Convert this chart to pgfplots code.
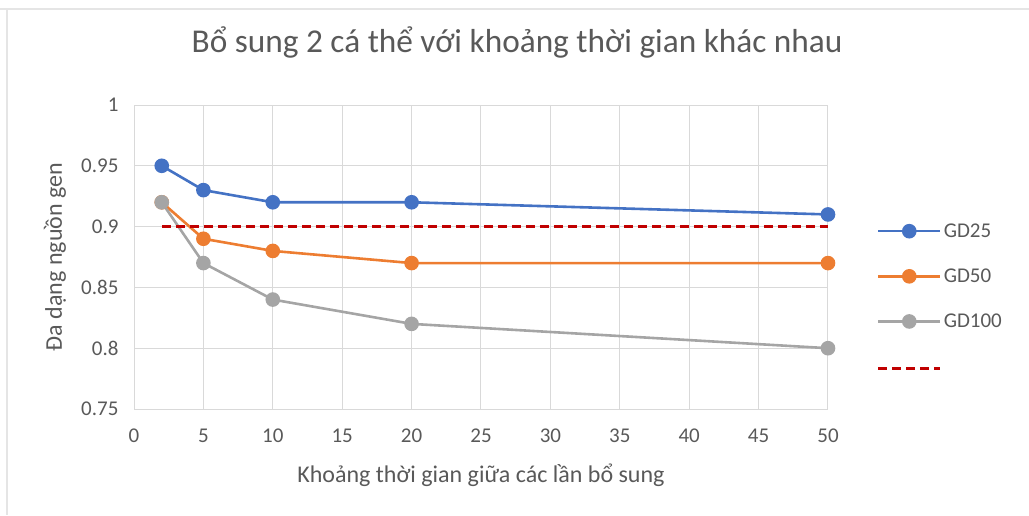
\documentclass[border=0pt]{standalone}
\usepackage{fontspec}
\setmainfont{Carlito}
\usepackage{pgfplots}
\pgfplotsset{compat=1.18}
\definecolor{cblue}{HTML}{4472C4}
\definecolor{corange}{HTML}{ED7D31}
\definecolor{cgray}{HTML}{A5A5A5}
\definecolor{cred}{HTML}{C00000}
\definecolor{textgray}{HTML}{595959}
\definecolor{gridgray}{HTML}{D9D9D9}
\begin{document}
\begin{tikzpicture}[x=1pt,y=1pt]
\path[use as bounding box] (0,0) rectangle (1029,515);
\draw[gray!20, line width=2pt] (0,506) -- (1029,506);
\draw[gray!20, line width=1.5pt] (7,0) -- (7,506);
\begin{axis}[
  at={(134pt,106pt)}, anchor=south west,
  scale only axis, width=694pt, height=304pt,
  xmin=0, xmax=50, ymin=0.75, ymax=1,
  xtick={0,5,10,15,20,25,30,35,40,45,50},
  ytick={0.75,0.8,0.85,0.9,0.95,1},
  yticklabels={0.75,0.8,0.85,0.9,0.95,1},
  grid=major,
  major grid style={draw=gridgray, line width=1pt},
  axis line style={draw=gridgray, line width=1pt},
  tick style={draw=none},
  /pgf/number format/assume math mode=true,
  ticklabel style={font=\fontsize{21}{24}\selectfont, text=textgray},
  yticklabel style={xshift=-12pt},
  xticklabel style={yshift=-16pt},
  title={Bổ sung 2 cá thể với khoảng thời gian khác nhau},
  title style={at={(axis description cs:0.552,1.1875)}, anchor=center, font=\fontsize{33.3}{40}\selectfont, text=textgray},
  xlabel={Khoảng thời gian giữa các lần bổ sung},
  xlabel style={at={(axis description cs:0.5,-0.217)}, anchor=center, font=\fontsize{24}{28}\selectfont, text=textgray},
  ylabel={Đa dạng nguồn gen},
  ylabel style={at={(axis description cs:-0.114,0.5)}, anchor=center, font=\fontsize{24}{28}\selectfont, text=textgray},
  legend style={draw=none, fill=none, at={(axis description cs:1.07,0.617)}, anchor=north west,
    font=\fontsize{21}{24}\selectfont, text=textgray, row sep=26pt, inner sep=0pt},
  legend cell align=left,
  legend image code/.code={\draw[mark repeat=2, mark phase=2] plot coordinates {(0pt,0pt) (31pt,0pt) (62pt,0pt)};},
  every axis plot/.append style={line width=2.6pt},
]
\addplot[color=cblue, mark=*, mark size=6pt, mark options={solid}] coordinates {(2,0.95) (5,0.93) (10,0.92) (20,0.92) (50,0.91)};
\addlegendentry{GD25}
\addplot[color=corange, mark=*, mark size=6pt, mark options={solid}] coordinates {(2,0.92) (5,0.89) (10,0.88) (20,0.87) (50,0.87)};
\addlegendentry{GD50}
\addplot[color=cgray, mark=*, mark size=6pt, mark options={solid}] coordinates {(2,0.92) (5,0.87) (10,0.84) (20,0.82) (50,0.80)};
\addlegendentry{GD100}
\addplot[color=cred, dash pattern=on 9pt off 5pt, line width=3pt] coordinates {(2,0.9) (50,0.9)};
\addlegendentry{\strut}
\end{axis}
\end{tikzpicture}
\end{document}
